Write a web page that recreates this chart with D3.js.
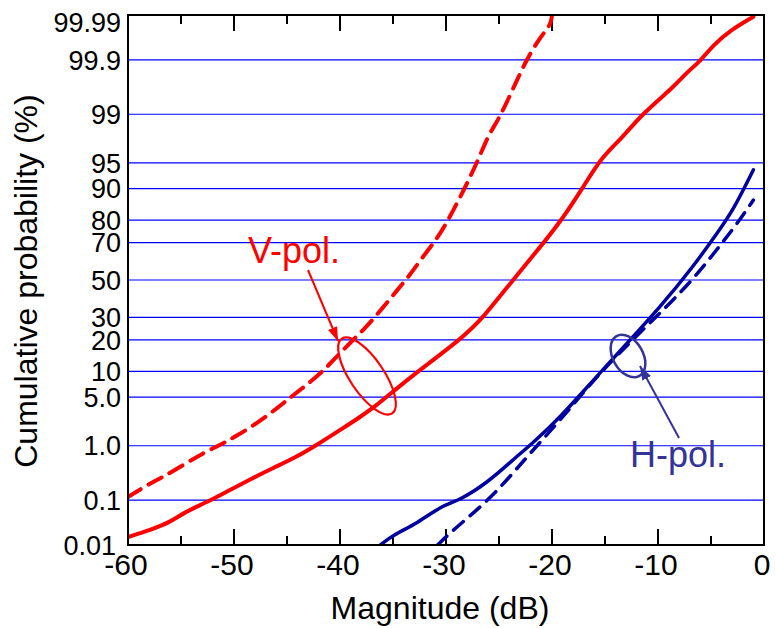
<!DOCTYPE html>
<html lang="en">
<head>
  <meta charset="UTF-8" />
  <title>Cumulative probability</title>
  <script src="https://d3js.org/d3.v7.min.js"></script>
  <style>
    body { margin: 0; background: #fff; }
    svg { display: block; font-family: 'Liberation Sans', Arial, sans-serif; }
  </style>
</head>
<body>
  <svg id="chart" width="776" height="628"></svg>
  <script>
    // values: [magnitude dB, cumulative %]
    const vPolSolid = [
      [-60, 0.0155], [-57.9, 0.0226], [-56.0, 0.034], [-54.8, 0.054], [-52.5, 0.092],
      [-50.4, 0.160], [-48.2, 0.273], [-46.3, 0.417], [-44.1, 0.65], [-42.2, 1.03],
      [-40.0, 1.76], [-38.1, 2.72], [-36.5, 3.97], [-34.6, 6.48], [-32.5, 10.3],
      [-28.7, 20.0], [-26.5, 29.7], [-23.7, 50], [-20.8, 69.8], [-19.1, 80],
      [-17.1, 90.2], [-15.3, 95.8], [-13.6, 97.5], [-11.4, 99.05], [-8.6, 99.65],
      [-7.3, 99.82], [-6.0, 99.894], [-4.8, 99.951], [-3.2, 99.977], [-1.0, 99.989]
    ];
    const vPolDashed = [
      [-60, 0.116], [-58.2, 0.20], [-56.7, 0.285], [-54.8, 0.47], [-52.9, 0.76],
      [-51.3, 1.03], [-49.7, 1.45], [-47.8, 2.24], [-45.9, 3.62], [-44.4, 5.33],
      [-42.8, 7.6], [-41.2, 11.1], [-40.0, 15.3], [-38.1, 22.8], [-37.2, 27.3],
      [-35.9, 35.2], [-34.6, 44.4], [-33.4, 52.8], [-32.2, 62.7], [-30.8, 72.2],
      [-29.9, 79.2], [-28.9, 86.3], [-28.0, 91.3], [-27.1, 94.97], [-26.3, 97.28],
      [-25.7, 98.24], [-24.9, 98.89], [-23.3, 99.75], [-22.4, 99.90], [-21.1, 99.968],
      [-20.1, 99.983], [-20.0, 99.99]
    ];
    const hPolSolid = [
      [-36.2, 0.01], [-35.0, 0.0173], [-32.7, 0.032], [-30.3, 0.080], [-29.0, 0.092],
      [-26.1, 0.22], [-23.7, 0.58], [-21.8, 1.11], [-19.2, 2.72], [-16.1, 8.0],
      [-12.9, 18.8], [-9.8, 35.2], [-6.7, 57.2], [-4.2, 75.9], [-2.9, 83.7],
      [-1.0, 93.9]
    ];
    const hPolDashed = [
      [-30.8, 0.01], [-29.3, 0.023], [-25.6, 0.116], [-22.4, 0.65], [-19.2, 2.47],
      [-16.1, 8.0], [-12.9, 18.1], [-9.8, 32.2], [-6.7, 50], [-3.5, 72.7],
      [-2.3, 80], [-1.0, 86.9]
    ];
    const yTickValues = [0.01, 0.1, 1, 5, 10, 20, 30, 50, 70, 80, 90, 95, 99, 99.9, 99.99];
    const yTickLabels = ["0.01", "0.1", "1.0", "5.0", "10", "20", "30", "50", "70", "80", "90", "95", "99", "99.9", "99.99"];
    const xTickValues = [-60, -50, -40, -30, -20, -10, 0];

    // inverse normal CDF (Acklam)
    function probit(p) {
      const a = [-39.69683028665376, 220.9460984245205, -275.9285104469687, 138.3577518672690, -30.66479806614716, 2.506628277459239];
      const b = [-54.47609879822406, 161.5858368580409, -155.6989798598866, 66.80131188771972, -13.28068155288572];
      const c = [-0.007784894002430293, -0.3223964580411365, -2.400758277161838, -2.549732539343734, 4.374664141464968, 2.938163982698783];
      const d = [0.007784695709041462, 0.3224671290700398, 2.445134137142996, 3.754408661907416];
      const pl = 0.02425;
      let q, r;
      if (p < pl) {
        q = Math.sqrt(-2 * Math.log(p));
        return (((((c[0]*q+c[1])*q+c[2])*q+c[3])*q+c[4])*q+c[5]) / ((((d[0]*q+d[1])*q+d[2])*q+d[3])*q+1);
      } else if (p <= 1 - pl) {
        q = p - 0.5; r = q * q;
        return (((((a[0]*r+a[1])*r+a[2])*r+a[3])*r+a[4])*r+a[5])*q / (((((b[0]*r+b[1])*r+b[2])*r+b[3])*r+b[4])*r+1);
      }
      q = Math.sqrt(-2 * Math.log(1 - p));
      return -(((((c[0]*q+c[1])*q+c[2])*q+c[3])*q+c[4])*q+c[5]) / ((((d[0]*q+d[1])*q+d[2])*q+d[3])*q+1);
    }
    const pz = pct => probit(pct / 100);

    const svg = d3.select("#chart");
    const margin = {top: 15, right: 12, bottom: 83, left: 128},
          width = +svg.attr("width") - margin.left - margin.right,
          height = +svg.attr("height") - margin.top - margin.bottom;
    const g = svg.append("g").attr("transform", `translate(${margin.left},${margin.top})`);

    const x = d3.scaleLinear().domain([-60, 0]).range([0, width]);
    const yz = d3.scaleLinear().domain([pz(0.01), pz(99.99)]).range([height, 0]);
    const y = pct => yz(pz(pct));

    // grid lines
    g.selectAll(".grid")
      .data(yTickValues.slice(1, -1))
      .enter().append("line")
      .attr("x1", 0).attr("x2", width)
      .attr("y1", d => y(d)).attr("y2", d => y(d))
      .attr("stroke", "#0000ff").attr("stroke-width", 1.2);

    // y labels
    g.selectAll(".ylab")
      .data(yTickValues)
      .enter().append("text")
      .attr("x", (d, i) => i === 0 ? -12 : -7)
      .attr("y", d => Math.min(Math.max(y(d), 7), height + 6))
      .attr("dy", "0.36em")
      .attr("text-anchor", "end")
      .attr("font-size", 27)
      .text((d, i) => yTickLabels[i]);

    // bottom and top ticks
    const minor = d3.range(-55, 0, 10);
    [[height, -1], [0, 1]].forEach(([y0, dir]) => {
      g.selectAll(null).data(xTickValues.slice(1, -1)).enter().append("line")
        .attr("x1", d => x(d)).attr("x2", d => x(d))
        .attr("y1", y0).attr("y2", y0 + dir * 16)
        .attr("stroke", "#000").attr("stroke-width", 2);
      g.selectAll(null).data(minor).enter().append("line")
        .attr("x1", d => x(d)).attr("x2", d => x(d))
        .attr("y1", y0).attr("y2", y0 + dir * 9)
        .attr("stroke", "#000").attr("stroke-width", 2);
    });

    g.selectAll(".xlab")
      .data(xTickValues)
      .enter().append("text")
      .attr("x", d => x(d) - 2)
      .attr("y", height + 30)
      .attr("text-anchor", "middle")
      .attr("font-size", 30)
      .text(d => d);

    // curves
    g.append("clipPath").attr("id", "clip")
      .append("rect").attr("width", width).attr("height", height);
    const line = d3.line()
      .x(d => x(d[0]))
      .y(d => y(d[1]))
      .curve(d3.curveBasis);
    const curves = [
      {data: vPolDashed, color: "#ff0000", w: 4, dash: "15,9"},
      {data: vPolSolid, color: "#ff0000", w: 4, dash: null},
      {data: hPolDashed, color: "#0000a0", w: 3.5, dash: "13,9"},
      {data: hPolSolid, color: "#0000a0", w: 3.5, dash: null}
    ];
    g.append("g").attr("clip-path", "url(#clip)")
      .selectAll("path")
      .data(curves)
      .enter().append("path")
      .attr("d", d => line(d.data))
      .attr("fill", "none")
      .attr("stroke", d => d.color)
      .attr("stroke-width", d => d.w)
      .attr("stroke-linecap", "round")
      .attr("stroke-dasharray", d => d.dash);

    // frame
    g.append("rect")
      .attr("width", width).attr("height", height)
      .attr("fill", "none").attr("stroke", "#000").attr("stroke-width", 2);

    // annotations
    const defs = svg.append("defs");
    [["arrV", "#ff0000"], ["arrH", "#333399"]].forEach(([id, col]) => {
      defs.append("marker").attr("id", id)
        .attr("viewBox", "0 0 10 10").attr("refX", 10).attr("refY", 5)
        .attr("markerWidth", 7).attr("markerHeight", 7).attr("orient", "auto")
        .append("path").attr("d", "M0,1.5L10,5L0,8.5Z").attr("fill", col);
    });

    svg.append("text").attr("x", 248).attr("y", 263)
      .attr("font-size", 36).attr("fill", "#ff0000").text("V-pol.");
    svg.append("line").attr("x1", 308).attr("y1", 270).attr("x2", 338).attr("y2", 341)
      .attr("stroke", "#ff0000").attr("stroke-width", 2).attr("marker-end", "url(#arrV)");
    svg.append("ellipse").attr("cx", 367).attr("cy", 376).attr("rx", 45).attr("ry", 17)
      .attr("transform", "rotate(56,367,376)")
      .attr("fill", "none").attr("stroke", "#ff0000").attr("stroke-width", 2.2);

    svg.append("text").attr("x", 630).attr("y", 467)
      .attr("font-size", 36).attr("fill", "#333399").text("H-pol.");
    svg.append("line").attr("x1", 679).attr("y1", 438).attr("x2", 640).attr("y2", 366)
      .attr("stroke", "#333399").attr("stroke-width", 2).attr("marker-end", "url(#arrH)");
    svg.append("ellipse").attr("cx", 628).attr("cy", 356).attr("rx", 23).attr("ry", 15)
      .attr("transform", "rotate(60,628,356)")
      .attr("fill", "none").attr("stroke", "#333399").attr("stroke-width", 2.5);

    // axis titles
    svg.append("text").attr("x", 440).attr("y", 619)
      .attr("text-anchor", "middle").attr("font-size", 32).text("Magnitude (dB)");
    svg.append("text").attr("transform", "translate(37,281) rotate(-90)")
      .attr("text-anchor", "middle").attr("font-size", 32).text("Cumulative probability (%)");
  </script>
</body>
</html>
